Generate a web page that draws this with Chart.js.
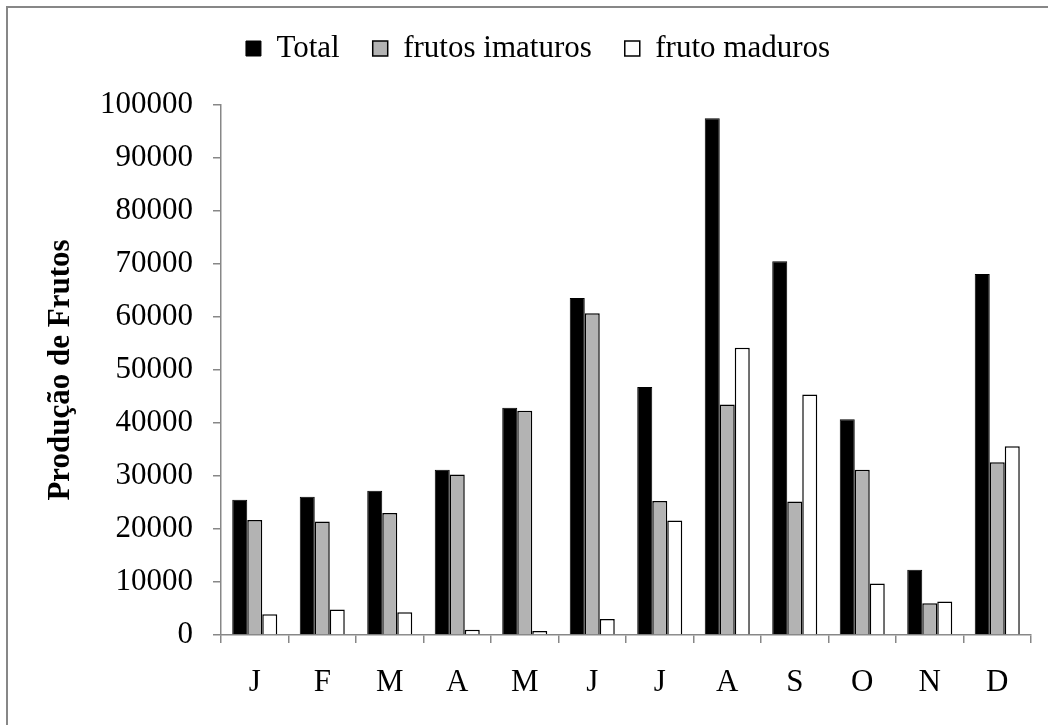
<!DOCTYPE html>
<html lang="pt">
<head>
<meta charset="utf-8">
<title>Produção de Frutos</title>
<script src="https://cdn.jsdelivr.net/npm/chart.js@4.4.1/dist/chart.umd.min.js"></script>
<style>
  html, body { margin: 0; padding: 0; background: #ffffff; overflow: hidden; }
  #frame {
    position: absolute; left: 6px; top: 6px;
    width: 1100px; height: 800px;
    border: 2px solid #878787;
  }
  #chart { position: absolute; left: 0; top: 0; }
</style>
</head>
<body>
<div id="frame"></div>
<canvas id="chart" width="1048" height="725"></canvas>
<script>
// Months (Jan..Dec)
const months = ['J', 'F', 'M', 'A', 'M', 'J', 'J', 'A', 'S', 'O', 'N', 'D'];

// Fruit counts per month
const total    = [25500, 26100, 27200, 31200, 42900, 63600, 46800, 97500, 70500, 40700, 12300, 68100];
const imaturos = [21700, 21400, 23000, 30300, 42300, 60700, 25300, 43500, 25200, 31200,  6000, 32600];
const maduros  = [ 3900,  4800,  4300,  1000,   750,  3000, 21600, 54200, 45400,  9700,  6300, 35600];

// Series names shown in the legend
const seriesNames = ['Total', 'frutos imaturos', 'fruto maduros'];

// Value axis range
const yMin = 0;
const yMax = 100000;
const yStep = 10000;

const SERIF = '"Liberation Serif", "Times New Roman", serif';
const AXIS_GREY = '#878787';

// Reserve a fixed band above the plot for the legend
const legendBand = {
  id: 'legendBand',
  beforeInit(chart) {
    const legend = chart.legend;
    const fit = legend.fit;
    legend.fit = function () {
      fit.call(this);
      this.height = 105;
    };
  }
};

new Chart(document.getElementById('chart'), {
  type: 'bar',
  data: {
    labels: months,
    datasets: [
      { label: seriesNames[0], data: total,    backgroundColor: '#000000', borderColor: '#000000', borderWidth: 1 },
      { label: seriesNames[1], data: imaturos, backgroundColor: '#b3b3b3', borderColor: '#000000', borderWidth: 1.5 },
      { label: seriesNames[2], data: maduros,  backgroundColor: '#ffffff', borderColor: '#000000', borderWidth: 1.5 }
    ]
  },
  options: {
    responsive: false,
    animation: false,
    devicePixelRatio: 1,
    layout: { padding: { left: 45, right: 17, top: 0, bottom: 0 } },
    datasets: { bar: { categoryPercentage: 0.667, barPercentage: 1.0 } },
    plugins: {
      tooltip: { enabled: false },
      legend: {
        position: 'top',
        align: 'center',
        labels: {
          boxWidth: 15,
          boxHeight: 15,
          padding: 33,
          color: '#000000',
          font: { family: SERIF, size: 31 }
        }
      }
    },
    scales: {
      x: {
        grid: { display: true, drawOnChartArea: false, drawTicks: true, tickLength: 8, color: AXIS_GREY, lineWidth: 1.5, offset: true },
        border: { display: true, color: AXIS_GREY, width: 1.5 },
        ticks: { color: '#000000', padding: 21, maxRotation: 0, font: { family: SERIF, size: 31 } },
        afterFit(scale) { scale.height = 90; }
      },
      y: {
        min: yMin,
        max: yMax,
        grid: { display: true, drawOnChartArea: false, drawTicks: true, tickLength: 8, color: AXIS_GREY, lineWidth: 1.5 },
        border: { display: true, color: AXIS_GREY, width: 1.5 },
        ticks: {
          stepSize: yStep,
          color: '#000000',
          padding: 20,
          font: { family: SERIF, size: 31 },
          callback: (v) => String(v)
        },
        title: {
          display: true,
          text: 'Produção de Frutos',
          color: '#000000',
          padding: { top: -3, bottom: 0 },
          font: { family: SERIF, size: 31, weight: 'bold' }
        },
        afterFit(scale) { scale.width = 176; }
      }
    }
  },
  plugins: [legendBand]
});
</script>
</body>
</html>
